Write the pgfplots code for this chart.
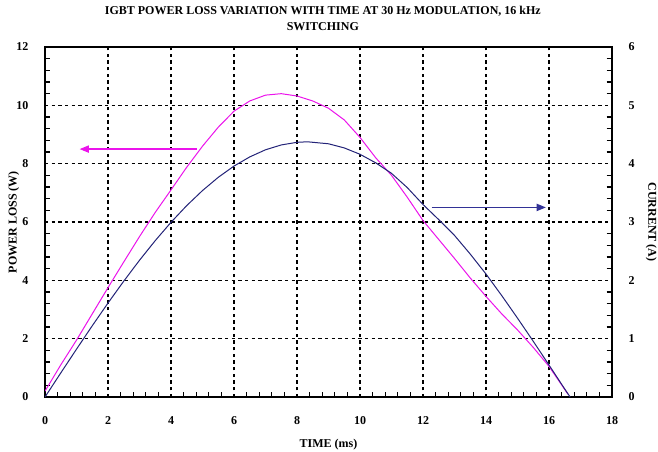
\documentclass[border=0pt]{standalone}
\usepackage{pgfplots}
\pgfplotsset{compat=1.18}
\usepackage{pgfplotstable}
\usepackage{fontspec}
\setmainfont{Liberation Serif}
\usetikzlibrary{arrows.meta}

\definecolor{lossmag}{RGB}{235,20,235}
\definecolor{curnavy}{RGB}{35,35,120}
\definecolor{arrnavy}{RGB}{50,50,150}

% power loss (W) vs time (ms)
\pgfplotstableread{
t     p
0     0.20
0.5   1.10
1     1.95
1.5   2.85
2     3.75
2.5   4.63
3     5.50
3.5   6.33
4     7.10
4.5   7.88
5     8.60
5.5   9.25
6     9.80
6.5   10.15
7     10.35
7.5   10.40
8     10.32
8.5   10.15
9     9.90
9.5   9.50
10    8.90
10.5  8.20
11    7.60
11.5  6.85
12    6.05
12.5  5.40
13    4.75
13.5  4.08
14    3.45
14.5  2.85
15    2.30
15.5  1.70
16    1.05
16.6  0.10
}\losstable

% current (A) vs time (ms)
\pgfplotstableread{
t     i
0     0
0.5   0.412
1     0.820
1.5   1.221
2     1.611
2.5   1.986
3     2.344
3.5   2.681
4     2.995
4.5   3.282
5     3.539
5.5   3.766
6     3.959
6.5   4.116
7     4.238
7.5   4.321
8     4.366
8.33  4.375
9     4.341
9.5   4.270
10    4.161
10.5  4.014
11    3.834
11.5  3.590
12    3.300
12.5  3.040
13    2.770
13.5  2.450
14    2.108
14.5  1.738
15    1.352
15.5  0.955
16    0.548
16.5  0.137
16.67 0
}\currtable

\begin{document}
\begin{tikzpicture}
\begin{axis}[
  name=L,
  scale only axis, width=425.25pt, height=262.5pt,
  font=\fontsize{9}{10}\selectfont\bfseries,
  /pgf/number format/assume math mode=true,
  axis line style={line width=1.1pt},
  xmin=0, xmax=18, ymin=0, ymax=12,
  xtick={0,2,...,18}, ytick={0,2,...,12},
  major tick length=0pt,
  grid=major,
  major grid style={black, line width=0.9pt, dash pattern=on 2.6pt off 2.4pt},
  yticklabel style={xshift=-9pt},
  xticklabel style={yshift=-11pt},
  title={IGBT POWER LOSS VARIATION WITH TIME AT 30 Hz MODULATION, 16 kHz\\SWITCHING},
  title style={at={(axis description cs:0.49,1)}, anchor=south, yshift=6pt, inner sep=0pt,
    align=center, font=\fontsize{9}{12}\selectfont\bfseries},
  xlabel={TIME (ms)},
  xlabel style={yshift=-4pt},
  ylabel={POWER LOSS (W)},
  ylabel style={at={(axis description cs:-0.055,0.5)}, anchor=center},
]
  % minor ticks, pointing inward, as short segments
  \addplot[black, line width=0.9pt, unbounded coords=jump] coordinates {
    (0,0.4) (0.17,0.4) (nan,nan) (0,0.8) (0.17,0.8) (nan,nan)
    (0,1.2) (0.17,1.2) (nan,nan) (0,1.6) (0.17,1.6) (nan,nan)
    (0,2.4) (0.17,2.4) (nan,nan) (0,2.8) (0.17,2.8) (nan,nan)
    (0,3.2) (0.17,3.2) (nan,nan) (0,3.6) (0.17,3.6) (nan,nan)
    (0,4.4) (0.17,4.4) (nan,nan) (0,4.8) (0.17,4.8) (nan,nan)
    (0,5.2) (0.17,5.2) (nan,nan) (0,5.6) (0.17,5.6) (nan,nan)
    (0,6.4) (0.17,6.4) (nan,nan) (0,6.8) (0.17,6.8) (nan,nan)
    (0,7.2) (0.17,7.2) (nan,nan) (0,7.6) (0.17,7.6) (nan,nan)
    (0,8.4) (0.17,8.4) (nan,nan) (0,8.8) (0.17,8.8) (nan,nan)
    (0,9.2) (0.17,9.2) (nan,nan) (0,9.6) (0.17,9.6) (nan,nan)
    (0,10.4) (0.17,10.4) (nan,nan) (0,10.8) (0.17,10.8) (nan,nan)
    (0,11.2) (0.17,11.2) (nan,nan) (0,11.6) (0.17,11.6) (nan,nan)
    (17.83,0.4) (18,0.4) (nan,nan) (17.83,0.8) (18,0.8) (nan,nan)
    (17.83,1.2) (18,1.2) (nan,nan) (17.83,1.6) (18,1.6) (nan,nan)
    (17.83,2.4) (18,2.4) (nan,nan) (17.83,2.8) (18,2.8) (nan,nan)
    (17.83,3.2) (18,3.2) (nan,nan) (17.83,3.6) (18,3.6) (nan,nan)
    (17.83,4.4) (18,4.4) (nan,nan) (17.83,4.8) (18,4.8) (nan,nan)
    (17.83,5.2) (18,5.2) (nan,nan) (17.83,5.6) (18,5.6) (nan,nan)
    (17.83,6.4) (18,6.4) (nan,nan) (17.83,6.8) (18,6.8) (nan,nan)
    (17.83,7.2) (18,7.2) (nan,nan) (17.83,7.6) (18,7.6) (nan,nan)
    (17.83,8.4) (18,8.4) (nan,nan) (17.83,8.8) (18,8.8) (nan,nan)
    (17.83,9.2) (18,9.2) (nan,nan) (17.83,9.6) (18,9.6) (nan,nan)
    (17.83,10.4) (18,10.4) (nan,nan) (17.83,10.8) (18,10.8) (nan,nan)
    (17.83,11.2) (18,11.2) (nan,nan) (17.83,11.6) (18,11.6) (nan,nan)
    (0.4,0) (0.4,0.18) (nan,nan) (0.8,0) (0.8,0.18) (nan,nan)
    (1.2,0) (1.2,0.18) (nan,nan) (1.6,0) (1.6,0.18) (nan,nan)
    (2.4,0) (2.4,0.18) (nan,nan) (2.8,0) (2.8,0.18) (nan,nan)
    (3.2,0) (3.2,0.18) (nan,nan) (3.6,0) (3.6,0.18) (nan,nan)
    (4.4,0) (4.4,0.18) (nan,nan) (4.8,0) (4.8,0.18) (nan,nan)
    (5.2,0) (5.2,0.18) (nan,nan) (5.6,0) (5.6,0.18) (nan,nan)
    (6.4,0) (6.4,0.18) (nan,nan) (6.8,0) (6.8,0.18) (nan,nan)
    (7.2,0) (7.2,0.18) (nan,nan) (7.6,0) (7.6,0.18) (nan,nan)
    (8.4,0) (8.4,0.18) (nan,nan) (8.8,0) (8.8,0.18) (nan,nan)
    (9.2,0) (9.2,0.18) (nan,nan) (9.6,0) (9.6,0.18) (nan,nan)
    (10.4,0) (10.4,0.18) (nan,nan) (10.8,0) (10.8,0.18) (nan,nan)
    (11.2,0) (11.2,0.18) (nan,nan) (11.6,0) (11.6,0.18) (nan,nan)
    (12.4,0) (12.4,0.18) (nan,nan) (12.8,0) (12.8,0.18) (nan,nan)
    (13.2,0) (13.2,0.18) (nan,nan) (13.6,0) (13.6,0.18) (nan,nan)
    (14.4,0) (14.4,0.18) (nan,nan) (14.8,0) (14.8,0.18) (nan,nan)
    (15.2,0) (15.2,0.18) (nan,nan) (15.6,0) (15.6,0.18) (nan,nan)
    (16.4,0) (16.4,0.18) (nan,nan) (16.8,0) (16.8,0.18) (nan,nan)
    (17.2,0) (17.2,0.18) (nan,nan) (17.6,0) (17.6,0.18)};

  \addplot[lossmag, line width=0.75pt] table[x=t, y=p] {\losstable};
  \addplot[lossmag, line width=0.9pt, -{Triangle[length=7pt,width=5.5pt]}] coordinates {(4.82,8.5) (1.1,8.5)};
  \addplot[arrnavy, line width=0.9pt, -{Triangle[length=7pt,width=5.5pt]}] coordinates {(12.27,6.5) (15.9,6.5)};
\end{axis}
\begin{axis}[
  scale only axis, width=425.25pt, height=262.5pt,
  font=\fontsize{9}{10}\selectfont\bfseries,
  /pgf/number format/assume math mode=true,
  axis line style={line width=1.1pt},
  axis x line=none, axis y line*=right,
  xmin=0, xmax=18, ymin=0, ymax=6,
  ytick={0,1,...,6},
  major tick length=0pt,
  yticklabel style={xshift=9pt},
  ylabel={CURRENT (A)},
  ylabel style={at={(axis description cs:1.069,0.5)}, anchor=center, rotate=180},
]
  \addplot[curnavy, line width=0.75pt] table[x=t, y=i] {\currtable};
\end{axis}
\pgfresetboundingbox
\path[use as bounding box] ([shift={(-33.75pt,-40.5pt)}]L.south west) rectangle ([shift={(34.5pt,35.25pt)}]L.north east);
\end{tikzpicture}
\end{document}
